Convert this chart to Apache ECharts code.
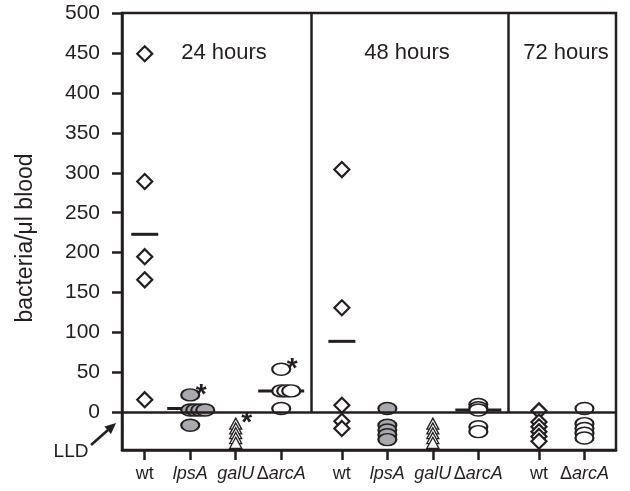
<!DOCTYPE html>
<html>
<head>
<meta charset="utf-8">
<script src="https://cdn.jsdelivr.net/npm/echarts@6/dist/echarts.min.js"></script>
<style>
  html, body { margin: 0; padding: 0; background: #fff; }
  #chart { width: 630px; height: 491px; }
</style>
</head>
<body>
<div id="chart"></div>
<script>
// strains along the x axis, grouped by time point
const categories = ['wt', 'lpsA', 'galU', 'ΔarcA', 'wt', 'lpsA', 'galU', 'ΔarcA', 'wt', 'ΔarcA']
const groupOf = [0, 0, 0, 0, 1, 1, 1, 1, 2, 2]
const timepoints = ['24 hours', '48 hours', '72 hours']
const yTicks = [0, 50, 100, 150, 200, 250, 300, 350, 400, 450, 500]

// bacteria/µl blood per mouse (values below 0 are below the detection limit)
const values = [
  [449, 289, 195, 166, 16],
  [22, 3, 3, 3, 3, -16],
  [-14, -20, -26, -32, -38],
  [54, 27, 27, 27, 5],
  [304, 131, 9, -11, -20],
  [5, -16, -22, -28, -34],
  [-14, -20, -26, -32, -38],
  [10, 6, 3, -18, -24],
  [2, -12, -18, -24, -30, -36],
  [5, -14, -20, -26, -32]
]
// group means (null = no bar drawn)
const means = [223, 5, null, 27, 89, null, null, 3, null, null]
// categories marked with an asterisk
const starred = [1, 2, 3]

const ink = '#231f20'
const font = 'Liberation Sans'
const gap = 1 / 3
const slots = categories.map((c, i) => i + groupOf[i] * gap)
const strainStyle = {
  wt: { symbol: 'diamond', symbolSize: [15, 15], color: '#fff', border: 2.2 },
  lpsA: { symbol: 'circle', symbolSize: [18, 12], color: '#a7a9ac', border: 1.8 },
  galU: { symbol: 'triangle', symbolSize: [12, 11], color: '#fff', border: 1.3 },
  'ΔarcA': { symbol: 'circle', symbolSize: [18, 12], color: '#fff', border: 1.8 }
}

function pointSeries(strain) {
  const data = []
  categories.forEach((c, i) => {
    if (c !== strain) return
    const seen = {}
    values[i].forEach(v => {
      seen[v] = (seen[v] || 0) + 1
      const dx = (seen[v] - 1) * 0.11
      data.push([slots[i] + dx, v])
    })
  })
  const st = strainStyle[strain]
  return {
    type: 'scatter',
    symbol: st.symbol,
    symbolSize: st.symbolSize,
    itemStyle: { color: st.color, borderColor: ink, borderWidth: st.border, opacity: 1 },
    z: 3,
    silent: true,
    data
  }
}

function labelRich(name) {
  if (name === 'wt') return '{n|wt}'
  if (name.charAt(0) === 'Δ') return '{n|Δ}{i|' + name.slice(1) + '}'
  return '{i|' + name + '}'
}

const meanData = []
means.forEach((m, i) => {
  if (m === null) return
  meanData.push({ value: [slots[i], m], symbolSize: [categories[i] === 'wt' ? 27 : 46, 3] })
})

const starData = starred.map(i => [slots[i], values[i][0]])

const sep1 = (slots[3] + slots[4]) / 2
const sep2 = (slots[7] + slots[8]) / 2

const chart = echarts.init(document.getElementById('chart'))
chart.setOption({
  animation: false,
  textStyle: { fontFamily: font },
  grid: { left: 122, right: 14, top: 13, bottom: 41, show: true, borderColor: ink, borderWidth: 2.5 },
  xAxis: {
    type: 'value',
    min: -0.5,
    max: 10.36,
    splitLine: { show: false },
    axisLine: { show: true, onZero: false, lineStyle: { color: ink, width: 2.5 } },
    axisTick: { show: true, length: 10, customValues: slots, lineStyle: { color: ink, width: 2.5 } },
    axisLabel: {
      customValues: slots,
      margin: 15,
      formatter: v => {
        const i = slots.findIndex(s => Math.abs(s - v) < 1e-6)
        return i < 0 ? '' : labelRich(categories[i])
      },
      rich: {
        n: { fontSize: 18, color: ink, fontFamily: font },
        i: { fontSize: 18, color: ink, fontStyle: 'italic', fontFamily: font }
      }
    }
  },
  yAxis: {
    type: 'value',
    min: -47,
    max: 500,
    splitLine: { show: false },
    axisLine: { show: true, onZero: false, lineStyle: { color: ink, width: 2.5 } },
    axisTick: { show: true, length: 10, customValues: yTicks, lineStyle: { color: ink, width: 2.5 } },
    axisLabel: { customValues: yTicks, fontSize: 21, margin: 22, color: ink }
  },
  graphic: [
    {
      type: 'text', x: 26, y: 238, rotation: Math.PI / 2,
      style: { text: 'bacteria/μl blood', fontSize: 23, fill: ink, align: 'center', verticalAlign: 'middle', fontFamily: font }
    },
    { type: 'text', x: 224, y: 53, style: { text: timepoints[0], fontSize: 22, fill: ink, align: 'center', verticalAlign: 'middle', fontFamily: font } },
    { type: 'text', x: 407, y: 53, style: { text: timepoints[1], fontSize: 22, fill: ink, align: 'center', verticalAlign: 'middle', fontFamily: font } },
    { type: 'text', x: 566, y: 53, style: { text: timepoints[2], fontSize: 22, fill: ink, align: 'center', verticalAlign: 'middle', fontFamily: font } },
    { type: 'text', x: 71, y: 452, style: { text: 'LLD', fontSize: 19, fill: ink, align: 'center', verticalAlign: 'middle', fontFamily: font } },
    { type: 'line', shape: { x1: 91, y1: 445, x2: 108, y2: 430 }, style: { stroke: ink, lineWidth: 2.5 } },
    { type: 'polygon', shape: { points: [[116, 423], [111, 434], [104.4, 426.4]] }, style: { fill: ink } }
  ],
  series: [
    {
      type: 'scatter',
      symbol: 'rect',
      itemStyle: { color: ink, opacity: 1 },
      z: 2,
      silent: true,
      data: meanData,
      markLine: {
        silent: true,
        symbol: 'none',
        label: { show: false },
        lineStyle: { color: ink, width: 2.5, type: 'solid', opacity: 1 },
        data: [
          { yAxis: 0 },
          [{ coord: [sep1, 0] }, { coord: [sep1, 500] }],
          [{ coord: [sep2, 0] }, { coord: [sep2, 500] }]
        ]
      }
    },
    pointSeries('wt'),
    pointSeries('lpsA'),
    pointSeries('galU'),
    pointSeries('ΔarcA'),
    {
      type: 'scatter',
      symbol: 'circle',
      symbolSize: 1,
      itemStyle: { color: 'rgba(0,0,0,0)', opacity: 1 },
      silent: true,
      z: 4,
      data: starData,
      label: {
        show: true, formatter: '*', position: 'right', distance: 5, offset: [6, 1],
        fontSize: 28, fontWeight: 'bold', color: ink, opacity: 1, fontFamily: font
      },
      labelLayout: { hideOverlap: false }
    }
  ]
})
</script>
</body>
</html>
